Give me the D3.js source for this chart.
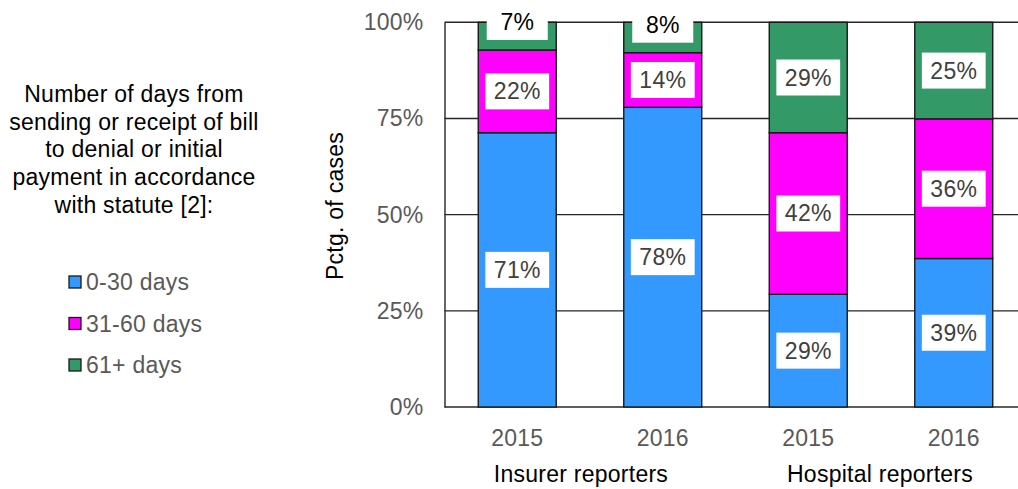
<!DOCTYPE html>
<html>
<head>
<meta charset="utf-8">
<script src="https://cdn.jsdelivr.net/npm/d3@7"></script>
<style>
  html, body { margin: 0; padding: 0; background: #fff; }
  svg { display: block; font-family: "Liberation Sans", Arial, sans-serif; }
  svg text { letter-spacing: 0.25px; }
</style>
</head>
<body>
<svg id="chart" width="1018" height="489"></svg>
<script>
// ---------- data ----------
const categoryKeys = ["ins2015", "ins2016", "hos2015", "hos2016"];
const categoryLabels = ["2015", "2016", "2015", "2016"];
const groupLabels = ["Insurer reporters", "Hospital reporters"];
const seriesNames = ["0-30 days", "31-60 days", "61+ days"];
const days0to30 = [71.3, 77.9, 29.3, 38.6];
const days31to60 = [21.5, 14.2, 42.0, 36.3];
const days61plus = [7.2, 7.9, 28.7, 25.1];
const yTicks = [0, 25, 50, 75, 100];
const legendTitleLines = ["Number of days from", "sending or receipt of bill", "to denial or initial", "payment in accordance", "with statute [2]:"];
const yAxisTitle = "Pctg. of cases";

// ---------- styles ----------
const colors = ["#3399FF", "#FF00FF", "#339966"];
const FS = 23;

const svg = d3.select("#chart");
const W = 1018, H = 489;

const x = d3.scaleBand().domain(categoryKeys).range([444.5, 1026.5])
  .paddingInner(0.464).paddingOuter(0.232);
const y = d3.scaleLinear().domain([0, 100]).range([407, 22.3]);

const rows = categoryKeys.map((k, i) => ({
  key: k, s0: days0to30[i], s1: days31to60[i], s2: days61plus[i]
}));
const stack = d3.stack().keys(["s0", "s1", "s2"]);
const stacked = stack(rows);

// gridlines
svg.append("g").selectAll("line").data(yTicks).join("line")
  .attr("x1", 444.5).attr("x2", W + 20)
  .attr("y1", d => y(d)).attr("y2", d => y(d))
  .attr("stroke", "#262626").attr("stroke-width", 1.4);

// y axis
const yAxis = d3.axisLeft(y).tickValues(yTicks).tickFormat(d => d + "%").tickSize(0).tickPadding(21);
const gy = svg.append("g").attr("transform", "translate(444.5,0)").call(yAxis);
gy.select(".domain").attr("stroke", "#262626").attr("stroke-width", 1.4);
gy.selectAll("text").attr("font-size", FS).attr("fill", "#595959")
  .attr("font-family", "'Liberation Sans', Arial, sans-serif");

// bars
const layers = svg.append("g").selectAll("g").data(stacked).join("g")
  .attr("fill", (d, i) => colors[i]);
layers.selectAll("rect").data(d => d).join("rect")
  .attr("x", d => x(d.data.key))
  .attr("width", x.bandwidth())
  .attr("y", d => y(d[1]))
  .attr("height", d => y(d[0]) - y(d[1]))
  .attr("stroke", "#1a1a1a").attr("stroke-width", 1.4);

// value labels
const labelG = svg.append("g");
stacked.forEach(layer => {
  layer.forEach(d => {
    const cx = x(d.data.key) + x.bandwidth() / 2;
    const top = y(d[1]), bot = y(d[0]);
    const h = bot - top;
    let cy = (top + bot) / 2;
    if (h < 40) cy = bot - 10 - 18;
    const val = Math.round(d[1] - d[0]);
    const g = labelG.append("g");
    const t = g.append("text").attr("x", cx).attr("y", cy)
      .attr("text-anchor", "middle").attr("dominant-baseline", "central")
      .attr("font-size", FS).attr("fill", h < 40 ? "#000" : "#404040")
      .text(val + "%");
    const tw = t.node().getComputedTextLength();
    const bw = Math.max(tw + 17, 61);
    g.insert("rect", "text").attr("x", cx - bw / 2).attr("y", cy - 18)
      .attr("width", bw).attr("height", 36).attr("fill", "#fff");
  });
});

// x tick labels
svg.append("g").selectAll("text").data(categoryKeys).join("text")
  .attr("x", d => x(d) + x.bandwidth() / 2).attr("y", 446)
  .attr("text-anchor", "middle").attr("font-size", FS).attr("fill", "#595959")
  .text((d, i) => categoryLabels[i]);

// group labels
const groupOffsets = [-9, -1];
svg.append("g").selectAll("text").data(groupLabels).join("text")
  .attr("x", (d, i) => (x(categoryKeys[i * 2]) + x(categoryKeys[i * 2 + 1]) + x.bandwidth()) / 2 + groupOffsets[i])
  .attr("y", 482)
  .attr("text-anchor", "middle").attr("font-size", FS).attr("fill", "#000")
  .text(d => d);

// y axis title
svg.append("text")
  .attr("transform", "translate(343,206) rotate(-90)")
  .attr("text-anchor", "middle").attr("font-size", FS).attr("fill", "#000")
  .text(yAxisTitle);

// legend title
svg.append("g").selectAll("text").data(legendTitleLines).join("text")
  .attr("x", 134).attr("y", (d, i) => 102 + i * 27.7)
  .attr("text-anchor", "middle").attr("font-size", FS).attr("fill", "#000")
  .text(d => d);

// legend items
const leg = svg.append("g").selectAll("g").data(seriesNames).join("g")
  .attr("transform", (d, i) => `translate(69,${282 + i * 41.5})`);
leg.append("rect").attr("x", 0).attr("y", -6).attr("width", 12).attr("height", 12)
  .attr("fill", (d, i) => colors[i]).attr("stroke", "#1a1a1a").attr("stroke-width", 1.3);
leg.append("text").attr("x", 17).attr("y", 0).attr("dominant-baseline", "central")
  .attr("font-size", FS).attr("fill", "#595959").text(d => d);
</script>
</body>
</html>
